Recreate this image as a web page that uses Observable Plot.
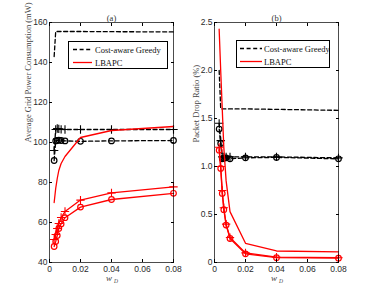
<!DOCTYPE html>
<html><head><meta charset="utf-8">
<script src="https://cdn.jsdelivr.net/npm/d3@7"></script>
<script src="https://cdn.jsdelivr.net/npm/@observablehq/plot@0.6"></script>
<style>
body{margin:0;background:#fff;}
#wrap{position:relative;width:374px;height:294px;overflow:hidden;}
#wrap > svg{position:absolute;top:0;}
.leg{position:absolute;border:0.8px solid #000;background:#fff;font-family:"Liberation Serif",serif;font-size:8.5px;color:#111;box-sizing:border-box;}
.leg svg{position:absolute;left:0;top:0;}
</style>
</head><body>
<div id="wrap"></div>
<script>
// ---- data ----
const wD = [0.003, 0.004, 0.005, 0.006, 0.0075, 0.01, 0.02, 0.04, 0.08];
const xTicks = [0, 0.02, 0.04, 0.06, 0.08];

// (a) Average grid power consumption (mW)
const powerGreedyTop   = [143, 155.5, 155.5, 155.5, 155.5, 155.5, 155.5, 155.4, 155.3];
const powerGreedyPlus  = [96, 106.5, 107, 106.8, 106.6, 106.5, 106.5, 106.5, 106.5];
const powerGreedyCirc  = [91, 100.8, 101, 101.2, 101, 100.8, 100.6, 100.8, 101];
const powerLbapcLine   = [70, 77, 82, 86, 89.5, 93, 102.5, 106, 108];
const powerLbapcPlus   = [51.5, 54, 57, 59.5, 62.5, 65.5, 71.2, 74.8, 77.8];
const powerLbapcCirc   = [48, 50.5, 53.5, 57, 59.3, 62.4, 67.7, 71.5, 74.6];
const powerTicks = [40, 60, 80, 100, 120, 140, 160];

// (b) Packet drop ratio (%)
const dropGreedyTop    = [2.0, 1.6, 1.6, 1.6, 1.6, 1.6, 1.6, 1.595, 1.585];
const dropGreedyPlus   = [1.45, 1.27, 1.1, 1.1, 1.1, 1.1, 1.1, 1.1, 1.09];
const dropGreedyCirc   = [1.39, 1.24, 1.08, 1.085, 1.09, 1.08, 1.09, 1.095, 1.08];
const dropLbapcLine    = [2.43, 2.0, 1.6, 1.2, 0.85, 0.53, 0.2, 0.12, 0.11];
const dropLbapcPlus    = [1.2, 1.0, 0.75, 0.57, 0.4, 0.26, 0.1, 0.055, 0.05];
const dropLbapcCirc    = [1.17, 0.98, 0.72, 0.55, 0.39, 0.25, 0.09, 0.05, 0.045];
const dropTicks = [0, 0.5, 1.0, 1.5, 2.0, 2.5];

const legendLabels = ["Cost-aware Greedy", "LBAPC"];
const RED = "#ff0000", BLACK = "#000";

const rows = vals => wD.map((x, i) => ({x, y: vals[i]}));
const xFmt = d => d === 0 ? "0" : d3.format(".2f")(d);

function seriesMarks(s) {
  const dash = s.color === BLACK ? "4,2.6" : null;
  const m = [Plot.line(rows(s.values), {x: "x", y: "y", stroke: s.color, strokeWidth: 1.3, strokeDasharray: dash})];
  if (s.symbol === "plus") m.push(Plot.dot(rows(s.values), {x: "x", y: "y", symbol: "plus", r: 2.8, stroke: s.color, strokeWidth: 1.1}));
  if (s.symbol === "circle") m.push(Plot.dot(rows(s.values), {x: "x", y: "y", symbol: "circle", r: 2.8, stroke: s.color, strokeWidth: 1.2, fill: "none"}));
  return m;
}

function panel({title, ylabel, ydomain, yticks, yfmt, series, marginLeft, marginRight, width, ylabelDx}) {
  return Plot.plot({
    width, height: 294, marginLeft, marginRight, marginTop: 22, marginBottom: 32,
    style: {fontFamily: "Liberation Sans, Arial, sans-serif", fontSize: "8.5px", color: "#000", background: "transparent", overflow: "visible"},
    x: {domain: [0, 0.08]},
    y: {domain: ydomain},
    marks: [
      ...series.flatMap(seriesMarks),
      Plot.frame({stroke: BLACK, strokeWidth: 0.7}),
      Plot.axisX({anchor: "bottom", ticks: xTicks, tickFormat: xFmt, tickSize: -3, tickPadding: 6, label: null, fill: "#2a2a2a"}),
      Plot.axisX({anchor: "top", ticks: xTicks, tickSize: -3, tickFormat: () => "", label: null}),
      Plot.axisY({anchor: "left", ticks: yticks, tickFormat: yfmt, tickSize: -3, tickPadding: 5, label: null, fill: "#2a2a2a"}),
      Plot.axisY({anchor: "right", ticks: yticks, tickSize: -3, tickFormat: () => "", label: null}),
      Plot.text([title], {frameAnchor: "top", dy: -8, fontFamily: "Liberation Serif, serif", fontSize: 8.5, fill: "#333"}),
      Plot.text([ylabel], {frameAnchor: "left", rotate: -90, dx: ylabelDx, fontFamily: "Liberation Serif, serif", fontSize: 8.5, fill: "#444"}),
      Plot.text(["w"], {frameAnchor: "bottom", dy: 18, dx: 0.5, textAnchor: "end", fontFamily: "Liberation Serif, serif", fontStyle: "italic", fontSize: 9, fill: "#444"}),
      Plot.text(["D"], {frameAnchor: "bottom", dy: 20.5, dx: 2.5, textAnchor: "start", fontFamily: "Liberation Serif, serif", fontStyle: "italic", fontSize: 5.5, fill: "#444"})
    ]
  });
}

const wrap = document.getElementById("wrap");
const a = panel({
  title: "(a)", ylabel: "Average Grid Power Consumption (mW)", ydomain: [40, 160], yticks: powerTicks, yfmt: d => String(d),
  width: 187, marginLeft: 49, marginRight: 14, ylabelDx: -21,
  series: [
    {values: powerGreedyTop, color: BLACK},
    {values: powerGreedyPlus, color: BLACK, symbol: "plus"},
    {values: powerGreedyCirc, color: BLACK, symbol: "circle"},
    {values: powerLbapcLine, color: RED},
    {values: powerLbapcPlus, color: RED, symbol: "plus"},
    {values: powerLbapcCirc, color: RED, symbol: "circle"}
  ]
});
a.style.left = "0px";
wrap.appendChild(a);

const b = panel({
  title: "(b)", ylabel: "Packet Drop Ratio (%)", ydomain: [0, 2.5], yticks: dropTicks, yfmt: d => d === 0 ? "0" : d3.format(".1f")(d),
  width: 187, marginLeft: 27, marginRight: 36, ylabelDx: -18,
  series: [
    {values: dropGreedyTop, color: BLACK},
    {values: dropGreedyPlus, color: BLACK, symbol: "plus"},
    {values: dropGreedyCirc, color: BLACK, symbol: "circle"},
    {values: dropLbapcLine, color: RED},
    {values: dropLbapcPlus, color: RED, symbol: "plus"},
    {values: dropLbapcCirc, color: RED, symbol: "circle"}
  ]
});
b.style.left = "187px";
wrap.appendChild(b);

function legend(left, top, width, lineX0, lineX1, textX) {
  const d = document.createElement("div");
  d.className = "leg";
  Object.assign(d.style, {left: left + "px", top: top + "px", width: width + "px", height: "28px"});
  const styles = [{stroke: BLACK, dash: "4,2.6"}, {stroke: RED, dash: null}];
  let svg = `<svg width="${width}" height="28">`;
  legendLabels.forEach((lab, i) => {
    const y = 7.5 + i * 13;
    svg += `<line x1="${lineX0}" x2="${lineX1}" y1="${y}" y2="${y}" stroke="${styles[i].stroke}" stroke-width="1.3" ${styles[i].dash ? `stroke-dasharray="${styles[i].dash}"` : ""}/>`;
    svg += `<text x="${textX}" y="${y + 3}" font-family="Liberation Serif, serif" font-size="8.5" fill="#111">${lab}</text>`;
  });
  svg += `</svg>`;
  d.innerHTML = svg;
  wrap.appendChild(d);
}
legend(68, 41, 100, 4, 23, 26);
legend(236, 40, 94, 3, 25, 27);
</script>
</body></html>
